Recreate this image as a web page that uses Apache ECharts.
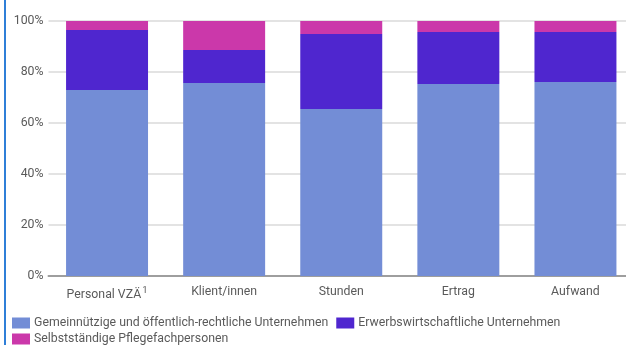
<!DOCTYPE html>
<html>
<head>
<meta charset="utf-8">
<script src="https://cdn.jsdelivr.net/npm/echarts@6/dist/echarts.min.js"></script>
<style>
  html, body { margin: 0; padding: 0; overflow: hidden; background: #fff; }
  #chart { width: 634px; height: 345px; }
</style>
</head>
<body>
<div id="chart"></div>
<script>
// Anteile nach Trägerschaft (in %)
const categories = ['Personal VZÄ', 'Klient/innen', 'Stunden', 'Ertrag', 'Aufwand'];
const footnoted = { 'Personal VZÄ': '1' };

const seriesNames = [
  'Gemeinnützige und öffentlich-rechtliche Unternehmen',
  'Erwerbswirtschaftliche Unternehmen',
  'Selbstständige Pflegefachpersonen'
];
const gemeinnuetzig = [72.9, 75.7, 65.5, 75.3, 76.1];
const erwerbswirtschaftlich = [23.6, 12.9, 29.4, 20.4, 19.6];
const selbststaendig = [3.5, 11.4, 5.1, 4.3, 4.3];

const yTicks = [0, 20, 40, 60, 80, 100];

const colors = ['#738dd6', '#4f26cf', '#cb38aa'];
const textColor = '#5a5a5a';
const fontFamily = 'Roboto, sans-serif';

const chart = echarts.init(document.getElementById('chart'), null, { renderer: 'canvas' });

const values = [gemeinnuetzig, erwerbswirtschaftlich, selbststaendig];

const legendText = { fontSize: 12.3, color: textColor, fontFamily: fontFamily, padding: [0, 0, 0, -1] };

chart.setOption({
  animation: false,
  color: colors,
  textStyle: { fontFamily: fontFamily },
  grid: { left: 48.5, right: 0, top: 21, bottom: 69, containLabel: false },
  graphic: [{
    type: 'rect',
    left: 4, top: 0,
    shape: { width: 2, height: 345 },
    style: { fill: '#2f7fd8' },
    silent: true
  }],
  legend: [{
    data: seriesNames.slice(0, 2),
    left: 12, top: 317,
    padding: 0,
    itemWidth: 18, itemHeight: 11, itemGap: 8,
    icon: 'rect',
    textStyle: legendText
  }, {
    data: seriesNames.slice(2),
    left: 12, top: 333,
    padding: 0,
    itemWidth: 18, itemHeight: 11, itemGap: 8,
    icon: 'rect',
    textStyle: legendText
  }],
  xAxis: {
    type: 'category',
    data: categories,
    axisLine: { lineStyle: { color: '#9e9e9e', width: 2 } },
    axisTick: { show: false },
    axisLabel: {
      interval: 0,
      color: textColor, fontSize: 12.3, margin: 10,
      formatter: function (v) {
        return footnoted[v] ? '{a|' + v + '}{s|' + footnoted[v] + '}' : v;
      },
      rich: {
        a: { fontSize: 12.3, color: textColor, fontFamily: fontFamily },
        s: { fontSize: 9.5, color: textColor, fontFamily: fontFamily, padding: [0, 0, 7, 1] }
      }
    }
  },
  yAxis: {
    type: 'value',
    min: yTicks[0],
    max: yTicks[yTicks.length - 1],
    interval: 20,
    axisLine: { show: false },
    axisTick: { show: false },
    splitLine: { lineStyle: { color: '#e3e3e3', width: 2 } },
    axisLabel: { color: textColor, fontSize: 12.3, margin: 5, formatter: '{value}%' }
  },
  series: seriesNames.map(function (name, i) {
    return {
      name: name,
      type: 'bar',
      stack: 'total',
      barCategoryGap: '30%',
      data: values[i],
      z: 1
    };
  })
});
</script>
</body>
</html>
